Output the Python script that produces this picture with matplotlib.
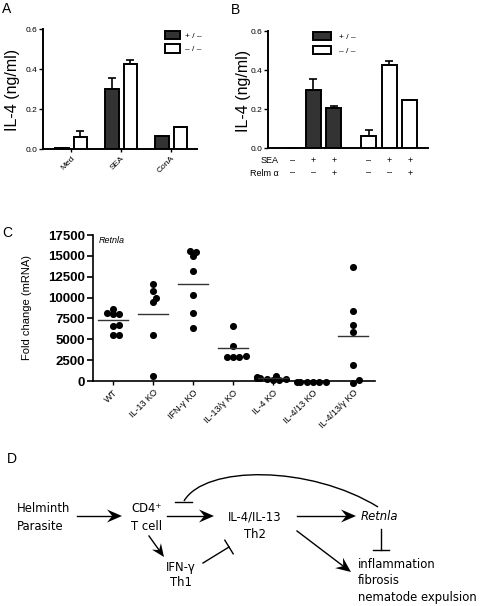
import matplotlib
matplotlib.use("Agg")
import matplotlib.pyplot as plt
import numpy as np
from matplotlib.patches import Polygon, PathPatch
from matplotlib.path import Path
from matplotlib.transforms import blended_transform_factory

# ---- panel A data ----
a_groups = ["Med", "SEA", "ConA"]
a_het = [0.003, 0.30, 0.065]
a_het_err = [0.0, 0.055, 0.0]
a_ko = [0.06, 0.425, 0.11]
a_ko_err = [0.03, 0.02, 0.0]

# ---- panel B data ----
b_het = [0.002, 0.30, 0.205]
b_het_err = [0.0, 0.055, 0.01]
b_ko = [0.06, 0.425, 0.245]
b_ko_err = [0.03, 0.02, 0.003]
b_sea = ["\u2013", "+", "+", "\u2013", "+", "+"]
b_relm = ["\u2013", "\u2013", "+", "\u2013", "\u2013", "+"]

# ---- panel C data ----
c_groups = ["WT", "IL-13 KO", "IFN-\u03b3 KO", "IL-13/\u03b3 KO", "IL-4 KO",
            "IL-4/13 KO", "IL-4/13/\u03b3 KO"]
c_wt = [6770, 8170, 8690, 8090, 8010, 6570, 5490, 5490]
c_il13 = [11575, 10810, 9410, 9970, 5490, 560]
c_ifng = [15620, 15500, 14980, 13180, 10290, 8170, 6410]
c_il13g = [6570, 4165, 2960, 2880, 2880, 2880]
c_il4 = [650, 450, 350, 300, 250, 200, 150, 100]
c_il413 = [-120, -120, -120, -120, -120, -120]
c_il413g = [13620, 8410, 6690, 5890, 1960, 160, -200]
c_means = [7370, 8050, 11575, 3965, 400, -120, 5370]

DARK = "#333333"
W, H = 481, 606

fig = plt.figure(figsize=(W / 100, H / 100), dpi=100)
plt.rcParams["font.family"] = ["Liberation Sans", "DejaVu Sans"]


def px_axes(left, top, right, bottom):
    return fig.add_axes([left / W, 1 - bottom / H, (right - left) / W, (bottom - top) / H])


def style_bar_axes(ax):
    for s in ("top", "right"):
        ax.spines[s].set_visible(False)
    for s in ("left", "bottom"):
        ax.spines[s].set_linewidth(1.4)
    ax.set_ylim(0, 0.6)
    ax.set_yticks([0, 0.2, 0.4, 0.6])
    ax.set_yticklabels(["0.0", "0.2", "0.4", "0.6"])
    ax.tick_params(axis="y", labelsize=6, length=3, width=1, pad=1)
    ax.set_ylabel("IL-4 (ng/ml)", fontsize=11.5)


# ---- panel A ----
axA = px_axes(43, 29, 197, 149)
xa = np.arange(len(a_groups))
bar_kw = dict(width=0.27, edgecolor="black", linewidth=1.4, zorder=3)
err_kw = dict(ecolor="black", elinewidth=1.2, capsize=3, capthick=1.2)
axA.bar(xa - 0.185, a_het, color=DARK, label="+ / \u2013",
        yerr=[np.zeros(3), a_het_err], error_kw=err_kw, **bar_kw)
axA.bar(xa + 0.185, a_ko, color="white", label="\u2013 / \u2013",
        yerr=[np.zeros(3), a_ko_err], error_kw=err_kw, **bar_kw)
axA.set_xlim(-0.56, 2.52)
axA.set_xticks(xa)
axA.set_xticklabels(a_groups, rotation=45, ha="right", rotation_mode="anchor", fontsize=6)
axA.tick_params(axis="x", length=2, width=1, pad=2)
style_bar_axes(axA)
axA.yaxis.set_label_coords(-0.15, 0.49)
axA.legend(loc="upper left", bbox_to_anchor=(0.79, 0.985), frameon=False, fontsize=6,
           handlelength=1.8, handleheight=1.15, labelspacing=0.55, handletextpad=0.6,
           borderpad=0, borderaxespad=0)

# ---- panel B ----
axB = px_axes(268, 31, 428, 148)
xb_het = np.arange(3)
xb_ko = np.arange(3) + 3.7
axB.bar(xb_het, b_het, color=DARK, label="+ / \u2013", width=0.73,
        yerr=[np.zeros(3), b_het_err], error_kw=err_kw,
        edgecolor="black", linewidth=1.4, zorder=3)
axB.bar(xb_ko, b_ko, color="white", label="\u2013 / \u2013", width=0.73,
        yerr=[np.zeros(3), b_ko_err], error_kw=err_kw,
        edgecolor="black", linewidth=1.4, zorder=3)
axB.set_xlim(-1.22, 6.59)
axB.set_xticks([])
style_bar_axes(axB)
axB.yaxis.set_label_coords(-0.105, 0.49)
axB.legend(loc="upper left", bbox_to_anchor=(0.28, 0.99), frameon=False, fontsize=6,
           handlelength=2.2, handleheight=1.1, labelspacing=0.65, handletextpad=0.9,
           borderpad=0, borderaxespad=0)
tb = blended_transform_factory(axB.transData, axB.transAxes)
tb_ax = axB.transAxes
xb_all = np.concatenate([xb_het, xb_ko])
for x, s1, s2 in zip(xb_all, b_sea, b_relm):
    axB.text(x, -0.11, s1, transform=tb, ha="center", va="center", fontsize=6.5)
    axB.text(x, -0.215, s2, transform=tb, ha="center", va="center", fontsize=6.5)
axB.text(0.065, -0.11, "SEA", transform=tb_ax, ha="right", va="center", fontsize=6.5)
axB.text(0.065, -0.215, "Relm \u03b1", transform=tb_ax, ha="right", va="center", fontsize=6.5)

# ---- panel C ----
axC = px_axes(93, 235, 375, 381)
ymax = 17500
px_per_unit = 146 / ymax
cat_px = 40
dot_px = 7.0


def swarm(vals):
    vals = np.asarray(vals, float)
    offs = np.zeros(len(vals))
    placed = []
    for i in np.argsort(vals):
        y = vals[i] * px_per_unit
        for k in [0, 1, -1, 2, -2, 3, -3, 4, -4, 5, -5]:
            x = k * dot_px * 0.45
            if all((x - px) ** 2 + (y - py) ** 2 >= (dot_px * 0.7) ** 2 for px, py in placed):
                break
        placed.append((x, y))
        offs[i] = x / cat_px
    return offs


c_data = [c_wt, c_il13, c_ifng, c_il13g, c_il4, c_il413, c_il413g]
for i, vals in enumerate(c_data):
    axC.scatter(i + swarm(vals), vals, s=26, color="black", zorder=3, clip_on=False,
                linewidths=0)
    axC.plot([i - 0.38, i + 0.38], [c_means[i], c_means[i]], color="#333333", lw=1.0,
             zorder=4)
axC.set_ylim(0, ymax)
axC.set_xlim(-0.5, 6.55)
axC.set_yticks(np.arange(0, 17501, 2500))
axC.tick_params(axis="y", labelsize=9.5, length=4, width=1.2, pad=2)
for lab in axC.get_yticklabels():
    lab.set_fontweight("bold")
axC.set_xticks(np.arange(len(c_groups)))
axC.set_xticklabels(c_groups, rotation=45, ha="right", rotation_mode="anchor", fontsize=6.5)
axC.tick_params(axis="x", length=3, width=1, pad=2)
for s in ("top", "right"):
    axC.spines[s].set_visible(False)
for s in ("left", "bottom"):
    axC.spines[s].set_linewidth(1.2)
axC.set_ylabel("Fold change (mRNA)", fontsize=8)
axC.yaxis.set_label_coords(-0.216, 0.5)
axC.text(0.02, 0.96, "Retnla", transform=axC.transAxes, fontsize=6.5, style="italic",
         ha="left", va="center")

# ---- overlay in pixel coords: panel letters and diagram D ----
axD = fig.add_axes([0, 0, 1, 1], zorder=-1)
axD.set_xlim(0, W)
axD.set_ylim(H, 0)
axD.axis("off")

for lab, x, y in [("A", 7, 9), ("B", 236, 10), ("C", 7, 233), ("D", 12, 459)]:
    axD.text(x, y, lab, fontsize=10, ha="center", va="center")


def arrow(x0, y0, x1, y1, hl=15, hw=6.5):
    d = np.array([x1 - x0, y1 - y0], float)
    d /= np.hypot(*d)
    n = np.array([-d[1], d[0]])
    tip = np.array([x1, y1])
    back = tip - d * hl
    notch = tip - d * hl * 0.65
    axD.plot([x0, notch[0]], [y0, notch[1]], color="black", lw=1.0)
    axD.add_patch(Polygon([tip, back + n * hw, notch, back - n * hw], closed=True,
                          color="black", lw=0))


def blunt(x0, y0, x1, y1, half=8):
    d = np.array([x1 - x0, y1 - y0], float)
    d /= np.hypot(*d)
    n = np.array([-d[1], d[0]])
    axD.plot([x0, x1], [y0, y1], color="black", lw=1.0)
    axD.plot([x1 - n[0] * half, x1 + n[0] * half], [y1 - n[1] * half, y1 + n[1] * half],
             color="black", lw=1.0)


arrow(77, 516, 122, 516)
arrow(167, 516, 214, 516)
arrow(297, 516, 356, 516)
arrow(297, 531, 351, 572)
arrow(149, 536, 164, 557, hl=13, hw=5.5)
blunt(203, 563, 229, 547)
blunt(381, 529, 381, 550)
arc = Path([(378, 507), (310, 465), (205, 465), (184, 501)],
           [Path.MOVETO, Path.CURVE4, Path.CURVE4, Path.CURVE4])
axD.add_patch(PathPatch(arc, facecolor="none", edgecolor="black", lw=1.0))
axD.plot([175, 192], [502, 502], color="black", lw=1.0)

dfont = dict(fontsize=8.4, family="DejaVu Sans", va="center")
axD.text(17, 509, "Helminth", ha="left", **dfont)
axD.text(17, 526, "Parasite", ha="left", **dfont)
axD.text(131, 509, "CD4\u207a", ha="left", **dfont)
axD.text(131, 526, "T cell", ha="left", **dfont)
axD.text(255, 517, "IL-4/IL-13", ha="center", **dfont)
axD.text(255, 534, "Th2", ha="center", **dfont)
axD.text(361, 516, "Retnla", ha="left", style="italic", **dfont)
axD.text(181, 567, "IFN-\u03b3", ha="center", **dfont)
axD.text(181, 583, "Th1", ha="center", **dfont)
axD.text(358, 564, "inflammation", ha="left", **dfont)
axD.text(358, 581, "fibrosis", ha="left", **dfont)
axD.text(358, 597, "nematode expulsion", ha="left", **dfont)

fig.savefig("out.png", dpi=100)
